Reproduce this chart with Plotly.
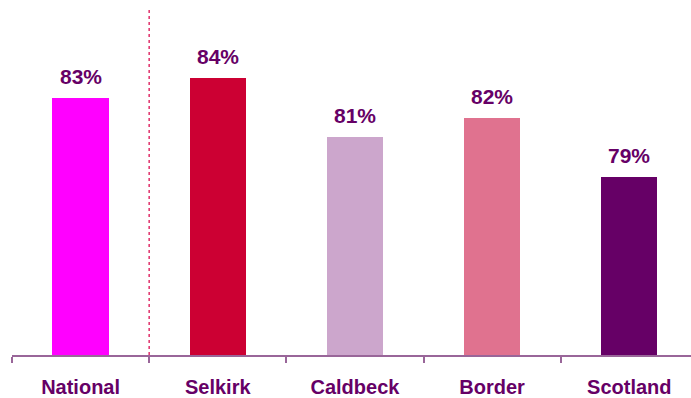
import plotly.graph_objects as go

categories = ["National", "Selkirk", "Caldbeck", "Border", "Scotland"]
values = [83, 84, 81, 82, 79]
labels = ["83%", "84%", "81%", "82%", "79%"]
colors = ["#FF00FF", "#CC0033", "#CCA6CC", "#E0728F", "#660066"]

text_color = "#660066"
font_family = "Liberation Sans, Arial, sans-serif"

fig = go.Figure()
fig.add_trace(go.Bar(
    x=categories,
    y=values,
    marker=dict(color=colors, line=dict(width=0)),
    width=0.41,
    hoverinfo="skip",
))

for cat, v, lab in zip(categories, values, labels):
    fig.add_annotation(
        x=cat, y=v, text="<b>%s</b>" % lab, showarrow=False,
        yanchor="bottom", yshift=8,
        font=dict(family=font_family, size=21, color=text_color),
    )

# dotted separator between the national figure and the local areas
fig.add_shape(
    type="line", xref="x", yref="paper",
    x0=0.5, x1=0.5, y0=0, y1=0.977,
    line=dict(color="#E0306A", width=1.5, dash="dot"),
)

fig.update_layout(
    width=691, height=398,
    margin=dict(l=12, r=0, t=0, b=43),
    plot_bgcolor="white", paper_bgcolor="white",
    showlegend=False, bargap=0,
)
fig.update_xaxes(
    range=[-0.5, 4.45],
    showline=True, linecolor="#996699", linewidth=1.5,
    ticks="outside", tickson="boundaries", ticklen=6, tickcolor="#996699", tickwidth=1.5,
    tickfont=dict(family=font_family, size=20, color=text_color),
    tickvals=categories, ticktext=["<b>%s</b>" % c for c in categories],
    ticklabelstandoff=13,
    showgrid=False, fixedrange=True,
)
fig.update_yaxes(
    range=[69.9, 88], visible=False, showgrid=False, zeroline=False, fixedrange=True,
)

fig.write_html("out.html")
